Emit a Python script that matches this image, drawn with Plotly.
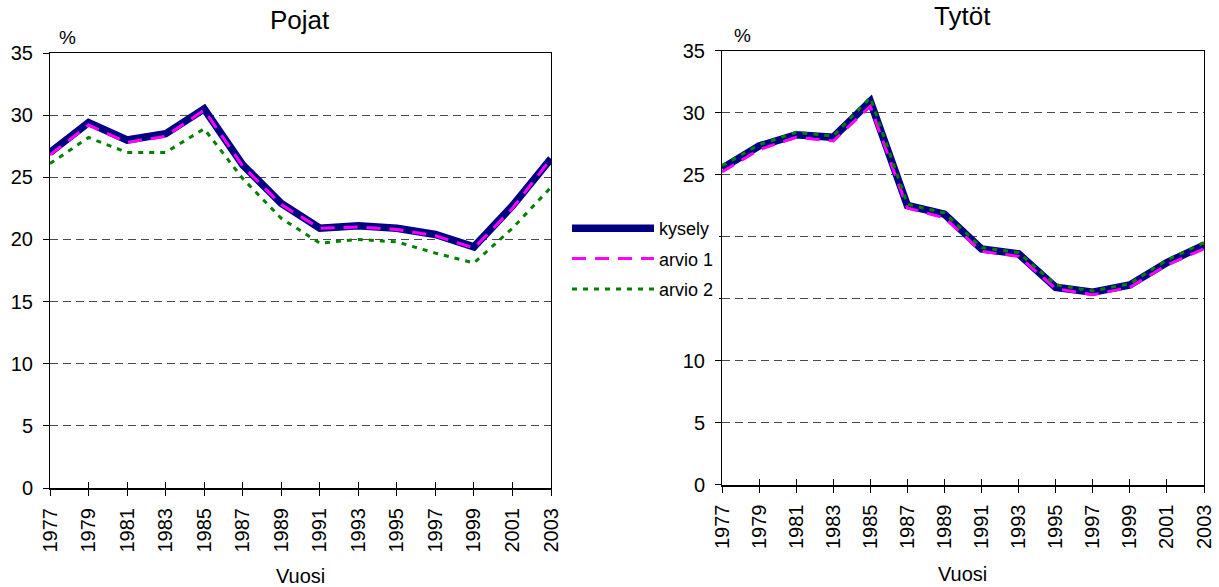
import plotly.graph_objects as go

years = [1977, 1979, 1981, 1983, 1985, 1987, 1989, 1991, 1993, 1995, 1997, 1999, 2001, 2003]
year_labels = [str(y) for y in years]

pojat_kysely = [27.0, 29.4, 28.0, 28.5, 30.5, 26.0, 22.9, 20.9, 21.1, 20.9, 20.4, 19.4, 22.7, 26.5]
pojat_arvio1 = [26.8, 29.2, 27.8, 28.3, 30.4, 25.9, 22.8, 20.9, 21.0, 20.8, 20.3, 19.3, 22.5, 26.5]
pojat_arvio2 = [26.1, 28.2, 27.0, 27.0, 28.9, 24.9, 21.7, 19.7, 20.0, 19.8, 18.9, 18.1, 20.9, 24.2]

tytot_kysely = [25.5, 27.3, 28.2, 28.0, 30.9, 22.5, 21.8, 19.0, 18.6, 15.9, 15.5, 16.1, 17.9, 19.3]
tytot_arvio1 = [25.2, 27.0, 28.0, 27.7, 30.5, 22.3, 21.5, 18.8, 18.4, 15.8, 15.3, 15.9, 17.7, 19.0]
tytot_arvio2 = [25.7, 27.4, 28.4, 28.1, 31.2, 22.6, 21.9, 19.1, 18.7, 16.1, 15.6, 16.2, 18.1, 19.5]

y_ticks = [0, 5, 10, 15, 20, 25, 30, 35]
y_labels_left = [str(v) for v in y_ticks]
y_labels_right = ["0", "5", "10", "", "", "25", "30", "35"]

series_names = ["kysely", "arvio 1", "arvio 2"]
titles = ["Pojat", "Tytöt"]

FONT = "Liberation Sans, Arial, sans-serif"
W, H = 1219, 587

styles = [
    dict(color="#000080", width=7.5, dash="solid"),
    dict(color="#FF00FF", width=3, dash="14px,9px"),
    dict(color="#008000", width=3, dash="5px,6px"),
]

fig = go.Figure()

panels = [
    ("x", "y", [pojat_kysely, pojat_arvio1, pojat_arvio2], True),
    ("x2", "y2", [tytot_kysely, tytot_arvio1, tytot_arvio2], False),
]
for xa, ya, data, show in panels:
    for i, (name, vals) in enumerate(zip(series_names, data)):
        fig.add_trace(go.Scatter(
            x=years, y=vals, mode="lines", name=name,
            line=dict(color=styles[i]["color"], width=styles[i]["width"], dash=styles[i]["dash"]),
            xaxis=xa, yaxis=ya, showlegend=show, legendgroup=name,
        ))

# invisible traces to activate overlay axes (inside tick marks + top frame)
fig.add_trace(go.Scatter(x=[], y=[], xaxis="x3", yaxis="y", showlegend=False, hoverinfo="skip"))
fig.add_trace(go.Scatter(x=[], y=[], xaxis="x4", yaxis="y2", showlegend=False, hoverinfo="skip"))

def px_x(p):
    return p / W

def px_y(p):
    return (H - p) / H

left_dom_x = [px_x(50), px_x(551)]
left_dom_y = [px_y(488), px_y(53)]
right_dom_x = [px_x(722), px_x(1204)]
right_dom_y = [px_y(484.5), px_y(50.5)]

def xaxis_main(dom, anchor):
    return dict(
        domain=dom, anchor=anchor, range=[1977, 2003], automargin=False,
        tickmode="array", tickvals=years, ticktext=year_labels, tickangle=-90,
        ticks="outside", ticklen=6, tickwidth=1, tickcolor="black",
        showline=True, linewidth=2, linecolor="black",
        showgrid=False, zeroline=False,
        tickfont=dict(family=FONT, size=20, color="black"),
        ticklabelstandoff=4,
    )

def xaxis_overlay(over, anchor):
    return dict(
        overlaying=over, anchor=anchor, range=[1977, 2003], automargin=False,
        tickmode="array", tickvals=years, showticklabels=False,
        ticks="inside", ticklen=6, tickwidth=1, tickcolor="black",
        showline=True, linewidth=1, linecolor="black", mirror=True,
        showgrid=False, zeroline=False,
    )

def yaxis_main(dom, anchor, labels):
    return dict(
        domain=dom, anchor=anchor, range=[0, 35], automargin=False,
        tickmode="array", tickvals=y_ticks, ticktext=labels,
        ticks="outside", ticklen=6, tickwidth=1, tickcolor="black",
        showline=True, linewidth=1, linecolor="black", mirror=True,
        showgrid=True, gridcolor="#4a4a4a", gridwidth=1, griddash="8px,5px",
        zeroline=False,
        tickfont=dict(family=FONT, size=20, color="black"),
        ticklabelstandoff=6,
    )

def label(text, x, y, size):
    return dict(text=text, x=px_x(x), y=px_y(y), xref="paper", yref="paper",
                xanchor="center", yanchor="middle", showarrow=False,
                font=dict(family=FONT, size=size, color="black"))

annotations = [
    label(titles[0], 300, 20, 26),
    label(titles[1], 962, 16, 26),
    label("%", 67, 37, 19),
    label("%", 742, 35, 19),
    label("Vuosi", 300, 576, 20),
    label("Vuosi", 962, 574, 20),
]

fig.update_layout(
    width=W, height=H,
    margin=dict(l=0, r=0, t=0, b=0, autoexpand=False),
    paper_bgcolor="white", plot_bgcolor="white",
    xaxis=xaxis_main(left_dom_x, "y"),
    yaxis=yaxis_main(left_dom_y, "x", y_labels_left),
    xaxis2=xaxis_main(right_dom_x, "y2"),
    yaxis2=yaxis_main(right_dom_y, "x2", y_labels_right),
    xaxis3=xaxis_overlay("x", "y"),
    xaxis4=xaxis_overlay("x2", "y2"),
    legend=dict(
        x=px_x(567), y=px_y(210), xanchor="left", yanchor="top",
        bgcolor="white", borderwidth=0,
        font=dict(family=FONT, size=18, color="black"),
        itemwidth=82, tracegroupgap=4, traceorder="grouped",
    ),
    annotations=annotations,
    showlegend=True,
)

fig.write_html(
    "out.html",
    config={"displayModeBar": False},
    post_script="document.body.style.margin='0';document.body.style.overflow='hidden';",
)
